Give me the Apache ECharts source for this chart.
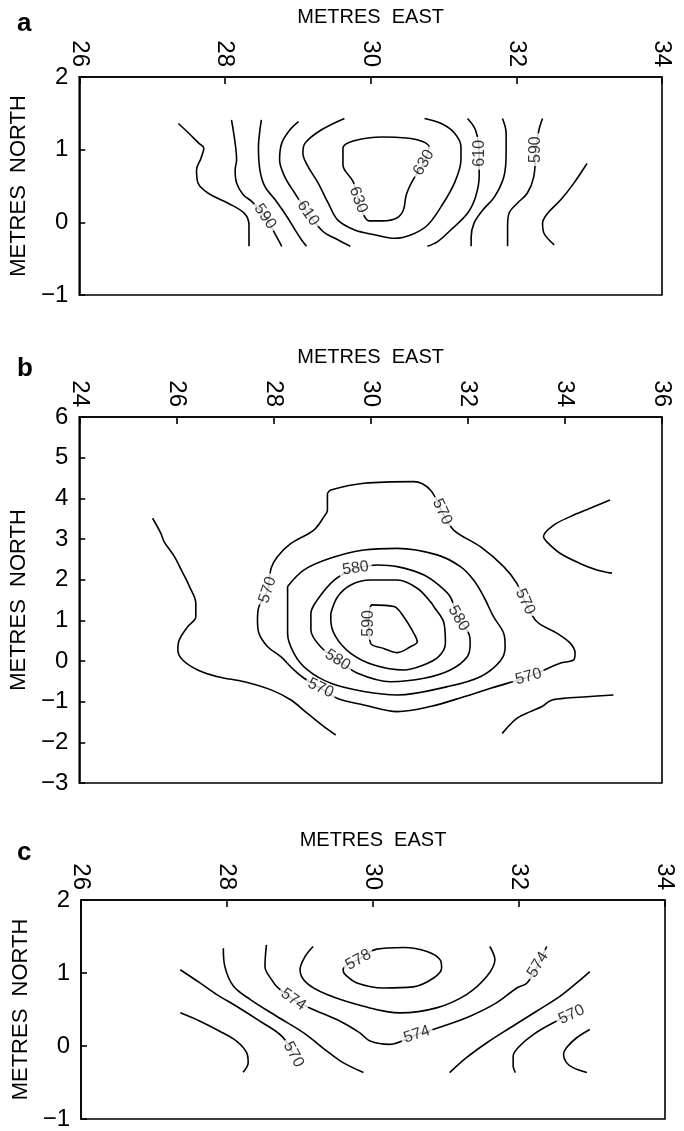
<!DOCTYPE html>
<html>
<head>
<meta charset="utf-8">
<style>
  html, body { margin: 0; padding: 0; background: #fff; }
  #chart { width: 684px; height: 1131px; }
</style>
<script src="https://cdn.jsdelivr.net/npm/echarts@6/dist/echarts.min.js"></script>
</head>
<body>
<div id="chart"></div>
<script>
// ---- Axis ranges (min, max, step) ----
const aEast = [26, 34, 2];
const aNorth = [-1, 2, 1];
const bEast = [24, 36, 2];
const bNorth = [-3, 6, 1];
const cEast = [26, 34, 2];
const cNorth = [-1, 2, 1];

// ---- Panel a contours (metres east, metres north) ----
const a580L = [[27.36,1.36],[27.50,1.23],[27.64,1.09],[27.71,1.02],[27.67,0.88],[27.61,0.72],[27.63,0.54],[27.77,0.40],[28.05,0.26],[28.27,0.12],[28.33,-0.04],[28.33,-0.33]];
const a590L = [[28.09,1.41],[28.14,1.09],[28.16,0.86],[28.14,0.72],[28.16,0.54],[28.25,0.38],[28.37,0.285],[28.55,0.08],[28.71,-0.20],[28.78,-0.33]];
const a600L = [[28.50,1.41],[28.48,1.27],[28.46,1.04],[28.48,0.72],[28.55,0.49],[28.69,0.31],[28.85,0.08],[28.96,-0.10],[29.05,-0.24],[29.12,-0.33]];
const a610L = [[29.01,1.385],[28.89,1.27],[28.78,1.09],[28.75,0.86],[28.82,0.63],[28.96,0.40],[29.14,0.125],[29.35,-0.13],[29.51,-0.22],[29.72,-0.33]];
const a620 = [[29.64,1.43],[29.32,1.27],[29.10,1.09],[29.07,0.95],[29.14,0.77],[29.28,0.54],[29.42,0.26],[29.55,0.03],[29.78,-0.105],[30.05,-0.17],[30.33,-0.22],[30.56,-0.17],[30.78,-0.04],[30.97,0.22],[31.15,0.54],[31.24,0.86],[31.24,1.04],[31.15,1.23],[30.97,1.36],[30.74,1.43]];
const a630 = [[29.83,0.31],[29.76,0.56],[29.62,0.79],[29.62,1.02],[29.76,1.12],[30.17,1.175],[30.49,1.16],[30.69,1.12],[30.80,1.04],[30.73,0.82],[30.58,0.58],[30.49,0.38],[30.45,0.17],[30.36,0.06],[30.17,0.02],[29.98,0.02],[29.83,0.31]];
const a610R = [[31.33,1.43],[31.44,1.27],[31.49,0.95],[31.49,0.63],[31.44,0.35],[31.33,0.125],[31.10,-0.105],[30.92,-0.265],[30.78,-0.33]];
const a600R = [[31.81,1.43],[31.86,1.23],[31.86,0.95],[31.83,0.63],[31.70,0.35],[31.54,0.17],[31.42,-0.01],[31.38,-0.20],[31.38,-0.33]];
const a590R = [[32.36,1.43],[32.31,1.27],[32.27,1.00],[32.24,0.63],[32.15,0.40],[32.01,0.26],[31.90,0.125],[31.88,-0.06],[31.88,-0.33]];
const a580R = [[32.97,0.81],[32.79,0.54],[32.61,0.31],[32.43,0.125],[32.36,-0.01],[32.38,-0.15],[32.52,-0.31]];
const aLabels = [[28.55,0.08,590],[29.14,0.125,610],[29.83,0.31,630],[30.73,0.82,630],[31.49,0.95,610],[32.27,1.00,590]];
const aLabelTilt = [-55, -55, -70, 60, 90, 90];

// ---- Panel b contours ----
const bWest = [[25.51,3.51],[25.68,3.14],[25.75,2.93],[25.96,2.565],[26.10,2.24],[26.27,1.83],[26.40,1.42],[26.40,1.09],[26.23,0.84],[26.06,0.52],[26.03,0.27],[26.13,0.025],[26.44,-0.22],[26.85,-0.385],[27.40,-0.51],[27.95,-0.71],[28.36,-0.96],[28.70,-1.29],[29.04,-1.615],[29.28,-1.82]];
const b570 = [[29.11,4.12],[29.18,4.205],[29.86,4.37],[30.89,4.41],[31.23,4.205],[31.47,3.67],[31.71,3.22],[32.26,2.81],[32.74,2.32],[33.01,1.91],[33.18,1.46],[33.42,0.97],[33.84,0.68],[34.11,0.44],[34.21,0.19],[34.18,0.025],[33.90,-0.056],[33.25,-0.386],[32.81,-0.55],[32.47,-0.67],[31.92,-0.88],[31.23,-1.12],[30.55,-1.246],[29.86,-1.08],[29.32,-0.92],[28.97,-0.67],[28.63,-0.425],[28.42,-0.22],[28.15,0.106],[27.88,0.35],[27.70,0.68],[27.67,1.01],[27.70,1.34],[27.88,1.75],[27.95,2.28],[28.08,2.565],[28.36,2.89],[28.83,3.22],[29.04,3.55],[29.11,3.71],[29.11,4.12]];
const b575 = [[28.29,1.83],[28.63,2.24],[29.18,2.53],[29.86,2.73],[30.55,2.77],[31.37,2.61],[31.85,2.32],[32.12,1.99],[32.33,1.58],[32.53,1.09],[32.74,0.68],[32.77,0.35],[32.67,0.0],[32.26,-0.385],[31.58,-0.63],[30.55,-0.835],[29.86,-0.75],[29.18,-0.55],[28.70,-0.22],[28.42,0.19],[28.29,0.68],[28.29,1.17],[28.29,1.83]];
const b580 = [[29.69,2.28],[30.14,2.36],[30.55,2.32],[31.10,2.115],[31.44,1.83],[31.64,1.58],[31.81,1.05],[32.02,0.68],[32.05,0.435],[31.99,0.106],[31.64,-0.22],[31.10,-0.425],[30.41,-0.51],[29.73,-0.30],[29.32,0.025],[28.97,0.35],[28.77,0.76],[28.77,1.17],[28.90,1.50],[29.25,1.99],[29.69,2.28]];
const b585 = [[29.18,1.17],[29.32,1.58],[29.59,1.87],[30.00,1.99],[30.55,1.99],[30.96,1.79],[31.23,1.46],[31.30,1.34],[31.51,0.93],[31.54,0.435],[31.40,0.106],[31.09,-0.098],[30.68,-0.22],[30.07,-0.098],[29.59,0.19],[29.28,0.60],[29.18,1.01],[29.18,1.17]];
const b590 = [[29.96,0.925],[30.03,1.38],[30.48,1.34],[30.68,1.09],[30.89,0.68],[30.96,0.475],[30.82,0.35],[30.55,0.205],[30.27,0.31],[30.00,0.435],[29.96,0.925]];
const bEastUpper = [[34.93,3.96],[34.52,3.755],[34.11,3.55],[33.77,3.34],[33.56,3.06],[33.63,2.93],[33.90,2.65],[34.31,2.40],[34.66,2.24],[34.97,2.16]];
const bEastLower = [[32.71,-1.78],[33.01,-1.41],[33.29,-1.245],[33.53,-1.12],[33.70,-0.975],[33.97,-0.92],[34.45,-0.88],[35.00,-0.835]];
const bLabels = [[31.47,3.67,570],[33.18,1.46,570],[33.25,-0.386,570],[28.97,-0.67,570],[27.88,1.75,570],[29.69,2.28,580],[31.81,1.05,580],[29.32,0.025,580],[29.96,0.925,590]];
const bLabelTilt = [-65, -65, 15, -25, 72, 8, -60, -32, 90];

// ---- Panel c contours ----
const c568L = [[27.36,0.454],[27.63,0.34],[27.90,0.203],[28.13,0.066],[28.27,-0.093],[28.29,-0.229],[28.22,-0.36]];
const c570L = [[27.36,1.045],[27.63,0.864],[27.86,0.704],[28.13,0.544],[28.45,0.34],[28.75,0.135],[28.91,-0.116]];
const c572L = [[27.95,1.34],[27.97,1.09],[28.09,0.817],[28.32,0.636],[28.68,0.408],[29.05,0.18],[29.37,-0.07],[29.59,-0.228],[29.87,-0.364]];
const c574 = [[28.54,1.386],[28.52,1.09],[28.61,0.909],[28.70,0.795],[28.91,0.636],[29.18,0.50],[29.55,0.34],[29.82,0.18],[29.96,0.067],[30.23,0.022],[30.60,0.158],[30.96,0.272],[31.33,0.408],[31.69,0.59],[31.97,0.795],[32.11,0.864],[32.26,1.113],[32.38,1.363]];
const c576 = [[29.18,1.363],[29.07,1.226],[29.00,1.045],[29.09,0.864],[29.37,0.704],[29.87,0.544],[30.37,0.454],[30.87,0.522],[31.28,0.704],[31.56,0.954],[31.67,1.18],[31.60,1.363]];
const c578 = [[29.80,1.18],[30.05,1.327],[30.42,1.35],[30.74,1.295],[30.92,1.18],[30.94,1.068],[30.83,0.932],[30.55,0.81],[30.14,0.795],[29.78,0.864],[29.62,0.977],[29.59,1.045],[29.80,1.18]];
const c572R = [[32.97,1.02],[32.79,0.864],[32.56,0.68],[32.24,0.476],[31.88,0.25],[31.56,0.045],[31.28,-0.16],[31.05,-0.364]];
const c570R = [[32.72,0.43],[32.47,0.318],[32.20,0.16],[32.01,0.0],[31.92,-0.138],[31.92,-0.274],[31.95,-0.364]];
const c568R = [[32.97,0.227],[32.79,0.113],[32.65,-0.023],[32.61,-0.115],[32.65,-0.228],[32.74,-0.296],[32.93,-0.364]];
const cLabels = [[29.80,1.18,578],[28.91,0.636,574],[30.60,0.158,574],[32.26,1.113,574],[28.91,-0.116,570],[32.72,0.43,570]];
const cLabelTilt = [30, -35, 18, 58, -62, 25];

// ---- Panel text ----
const panelLetters = ['a', 'b', 'c'];
const eastTitle = 'METRES  EAST';
const northTitle = 'METRES  NORTH';

const FONT = '"Liberation Sans", Arial, Helvetica, sans-serif';
const INK = '#000';

const grids = [
  { left: 77, top: 77, width: 585, height: 218 },
  { left: 78, top: 417, width: 584, height: 366 },
  { left: 81, top: 900, width: 584, height: 220 }
];
const letterPos = [[17, 24], [17, 369], [17, 853]];

function minus(v) { return String(v).replace('-', '\u2212'); }

function xAxisFor(i, range) {
  return {
    type: 'value', gridIndex: i, position: 'top',
    min: range[0], max: range[1], interval: range[2],
    name: eastTitle, nameLocation: 'middle', nameGap: 50,
    nameTextStyle: { fontFamily: FONT, fontSize: 20, color: INK },
    axisLine: { show: true, onZero: false, lineStyle: { color: INK, width: 1.6 } },
    axisTick: { show: true, inside: true, length: 7, lineStyle: { color: INK, width: 1.6 } },
    axisLabel: { rotate: 90, margin: 10, fontFamily: FONT, fontSize: 24, color: INK, formatter: minus },
    splitLine: { show: false }
  };
}
function yAxisFor(i, range) {
  return {
    type: 'value', gridIndex: i,
    min: range[0], max: range[1], interval: range[2],
    name: northTitle, nameLocation: 'middle', nameGap: 38, nameRotate: 90,
    nameTextStyle: { fontFamily: FONT, fontSize: 22, color: INK },
    axisLine: { show: true, onZero: false, lineStyle: { color: INK, width: 1.6 } },
    axisTick: { show: true, inside: true, length: 6, lineStyle: { color: INK, width: 1.6 } },
    axisLabel: { margin: 11, fontFamily: FONT, fontSize: 24, color: INK, formatter: minus },
    splitLine: { show: false }
  };
}

function contour(i, pts) {
  return {
    type: 'line', xAxisIndex: i, yAxisIndex: i, data: pts,
    showSymbol: false, smooth: 0.35, silent: true, animation: false,
    lineStyle: { color: INK, width: 1.6 }, z: 2
  };
}
function contourLabels(i, list, tilt) {
  return {
    type: 'scatter', xAxisIndex: i, yAxisIndex: i, silent: true, animation: false,
    symbol: 'circle', symbolSize: 1, itemStyle: { color: 'rgba(0,0,0,0)' }, z: 5,
    data: list.map((d, k) => ({
      value: [d[0], d[1]],
      label: { rotate: tilt[k], formatter: String(d[2]) }
    })),
    label: {
      show: true, position: 'inside', color: INK, fontFamily: FONT, fontSize: 16,
      textBorderWidth: 0, backgroundColor: '#fff', padding: [0, 3]
    }
  };
}

const series = [];
[a580L, a590L, a600L, a610L, a620, a630, a610R, a600R, a590R, a580R].forEach(p => series.push(contour(0, p)));
[bWest, b570, b575, b580, b585, b590, bEastUpper, bEastLower].forEach(p => series.push(contour(1, p)));
[c568L, c570L, c572L, c574, c576, c578, c572R, c570R, c568R].forEach(p => series.push(contour(2, p)));
series.push(contourLabels(0, aLabels, aLabelTilt));
series.push(contourLabels(1, bLabels, bLabelTilt));
series.push(contourLabels(2, cLabels, cLabelTilt));

const chart = echarts.init(document.getElementById('chart'), null, { renderer: 'canvas' });
chart.setOption({
  backgroundColor: '#fff',
  animation: false,
  grid: grids.map(g => Object.assign({ show: true, borderColor: INK, borderWidth: 1.6, backgroundColor: 'transparent' }, g)),
  xAxis: [xAxisFor(0, aEast), xAxisFor(1, bEast), xAxisFor(2, cEast)],
  yAxis: [yAxisFor(0, aNorth), yAxisFor(1, bNorth), yAxisFor(2, cNorth)],
  graphic: panelLetters.map((t, k) => ({
    type: 'text', x: letterPos[k][0], y: letterPos[k][1],
    style: { text: t, font: 'bold 26px ' + FONT, fill: INK, textVerticalAlign: 'middle', verticalAlign: 'middle' }
  })),
  series: series
});
</script>
</body>
</html>
